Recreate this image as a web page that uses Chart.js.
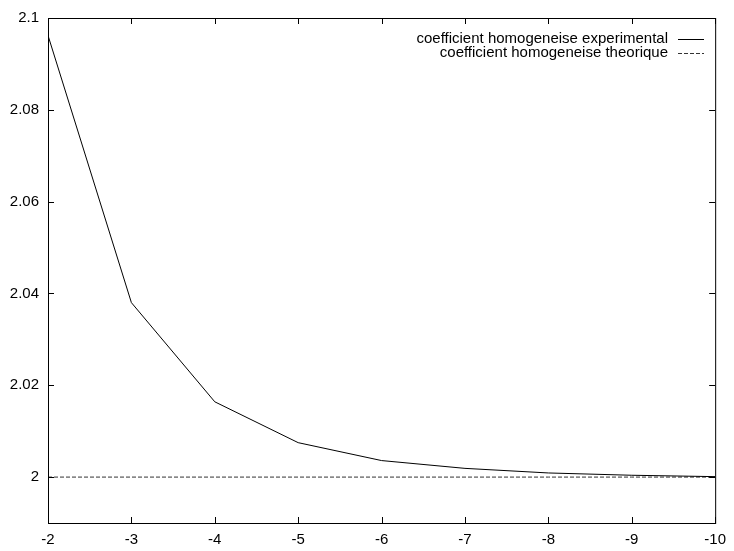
<!DOCTYPE html>
<html>
<head>
<meta charset="utf-8">
<script src="https://cdn.jsdelivr.net/npm/chart.js@4/dist/chart.umd.min.js"></script>
<style>
  html, body { margin: 0; padding: 0; background: #fff; }
  #wrap { width: 734px; height: 551px; }
</style>
</head>
<body>
<div id="wrap"><canvas id="graphe"></canvas></div>
<script>
// données
const xValeurs = [-2, -3, -4, -5, -6, -7, -8, -9, -10];
const experimental = [2.0962, 2.0380, 2.0164, 2.0075, 2.0036, 2.0019, 2.0009, 2.0004, 2.0001];
const theorique = [2, 2, 2, 2, 2, 2, 2, 2, 2];
const yTicks = [2, 2.02, 2.04, 2.06, 2.08, 2.1];
const xTicks = [-2, -3, -4, -5, -6, -7, -8, -9, -10];
const legendes = ["coefficient homogeneise experimental", "coefficient homogeneise theorique"];

const police = "Liberation Sans, Arial, Helvetica, sans-serif";

// cadre + graduations vers l'intérieur (style gnuplot)
const cadre = {
  id: "cadre",
  afterDraw(chart) {
    const { ctx, chartArea: a, scales } = chart;
    ctx.save();
    ctx.strokeStyle = "#000";
    ctx.lineWidth = 1;
    ctx.strokeRect(a.left + 0.5, a.top + 0.5, a.right - a.left, a.bottom - a.top);
    const t = 6;
    ctx.beginPath();
    xTicks.forEach(v => {
      const px = Math.round(scales.x.getPixelForValue(v)) + 0.5;
      ctx.moveTo(px, a.bottom); ctx.lineTo(px, a.bottom - t);
      ctx.moveTo(px, a.top); ctx.lineTo(px, a.top + t);
    });
    yTicks.forEach(v => {
      const py = Math.round(scales.y.getPixelForValue(v)) + 0.5;
      ctx.moveTo(a.left, py); ctx.lineTo(a.left + t, py);
      ctx.moveTo(a.right, py); ctx.lineTo(a.right - t, py);
    });
    ctx.stroke();

    // légende
    ctx.font = "15px " + police;
    ctx.fillStyle = "#000";
    ctx.textAlign = "right";
    ctx.textBaseline = "middle";
    const ds = chart.data.datasets;
    legendes.forEach((txt, i) => {
      const y = 39 + i * 14;
      ctx.fillText(txt, 668, y);
      ctx.beginPath();
      ctx.strokeStyle = ds[i].borderColor;
      ctx.setLineDash(ds[i].borderDash || []);
      ctx.moveTo(678, Math.round(y) + 0.5);
      ctx.lineTo(704, Math.round(y) + 0.5);
      ctx.stroke();
    });
    ctx.restore();
  }
};

new Chart(document.getElementById("graphe"), {
  type: "line",
  data: {
    datasets: [
      {
        label: legendes[0],
        data: xValeurs.map((x, i) => ({ x, y: experimental[i] })),
        borderColor: "#000",
        borderWidth: 1,
        pointRadius: 0,
        tension: 0
      },
      {
        label: legendes[1],
        data: xValeurs.map((x, i) => ({ x, y: theorique[i] })),
        borderColor: "#333",
        borderWidth: 1,
        borderDash: [4, 2],
        pointRadius: 0,
        tension: 0
      }
    ]
  },
  options: {
    responsive: true,
    maintainAspectRatio: false,
    animation: false,
    layout: { padding: { top: 16, right: 15, left: 0, bottom: 0 } },
    plugins: {
      legend: { display: false },
      tooltip: { enabled: false }
    },
    scales: {
      x: {
        type: "linear",
        reverse: true,
        min: -10,
        max: -2,
        grid: { display: false, drawTicks: false, tickLength: 0 },
        border: { display: false },
        afterBuildTicks: s => { s.ticks = xTicks.map(v => ({ value: v })); },
        afterFit: s => { s.height = 28; },
        ticks: {
          color: "#000",
          font: { family: police, size: 15 },
          padding: 8,
          maxRotation: 0,
          autoSkip: false,
          callback: v => String(v)
        }
      },
      y: {
        min: 1.99,
        max: 2.1,
        grid: { display: false, drawTicks: false, tickLength: 0 },
        border: { display: false },
        afterBuildTicks: s => { s.ticks = yTicks.map(v => ({ value: v })); },
        afterFit: s => { s.width = 48; },
        ticks: {
          color: "#000",
          font: { family: police, size: 15 },
          padding: 9,
          autoSkip: false,
          callback: v => String(Math.round(v * 100) / 100)
        }
      }
    }
  },
  plugins: [cadre]
});
</script>
</body>
</html>
